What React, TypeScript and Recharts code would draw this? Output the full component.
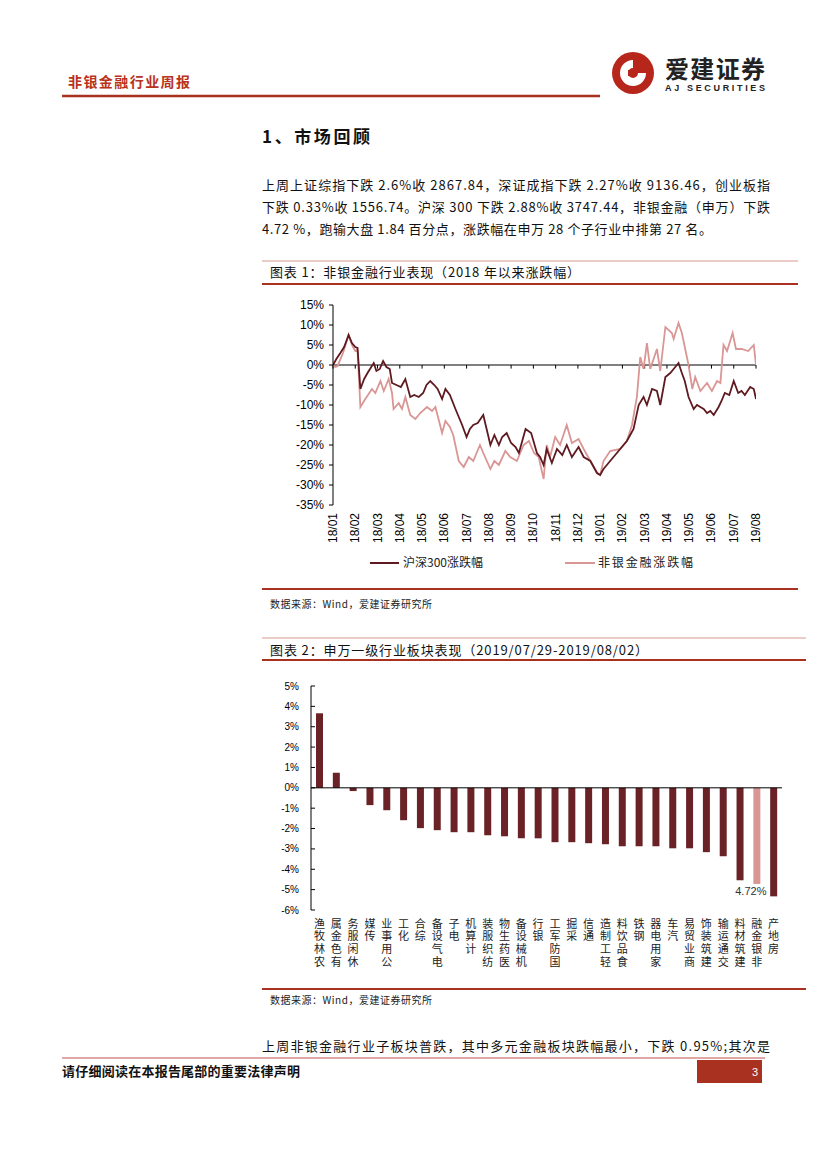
import React from 'react';
import { LineChart, Line, BarChart, Bar, Cell, LabelList, XAxis, YAxis, ReferenceLine } from 'recharts';

// chart 1: cumulative change since 2018/01, x = months since 2018/01
const monthLabels = ['18/01', '18/02', '18/03', '18/04', '18/05', '18/06', '18/07', '18/08', '18/09', '18/10',
    '18/11', '18/12', '19/01', '19/02', '19/03', '19/04', '19/05', '19/06', '19/07', '19/08'];
const yTicks1 = [15, 10, 5, 0, -5, -10, -15, -20, -25, -30, -35];

const hs300Month = [0, 0.15, 0.33, 0.5, 0.7, 0.85, 1.0, 1.1, 1.23, 1.4, 1.55, 1.83, 1.95, 2.1, 2.25, 2.4, 2.55, 2.65,
    2.85, 3.05, 3.25, 3.47, 3.65, 3.85, 4.05, 4.2, 4.37, 4.55, 4.7, 4.9, 5.05, 5.25, 5.5, 5.65, 5.8, 6.0, 6.15, 6.3,
    6.5, 6.75, 6.9, 7.07, 7.25, 7.45, 7.6, 7.8, 8.0, 8.2, 8.35, 8.5, 8.65, 8.9, 9.16, 9.3, 9.46, 9.6, 9.83, 10.06,
    10.3, 10.5, 10.73, 11.03, 11.26, 11.56, 11.86, 12.0, 12.15, 12.3, 12.45, 12.6, 12.75, 12.9, 13.05, 13.2, 13.35,
    13.5, 13.73, 13.95, 14.1, 14.33, 14.55, 14.7, 14.93, 15.15, 15.3, 15.52, 15.67, 15.8, 15.97, 16.2, 16.35, 16.5,
    16.65, 16.8, 16.95, 17.1, 17.32, 17.45, 17.6, 17.8, 18.0, 18.2, 18.35, 18.5, 18.74, 18.9, 19.0];
const hs300Change = [0, 1.5, 3, 4.5, 7.5, 5.5, 4.5, 4.3, -6, -3.5, -2, 0.5, -1.5, -1, 1, -0.5, -1, -4.5,
    -5, -5.5, -3.5, -8, -7.5, -8, -7, -5, -4, -5, -6, -8.5, -6, -7.5, -11, -13, -15, -18, -16, -15,
    -14.5, -12.5, -16, -20, -17.5, -20, -18, -17, -19.5, -20.5, -22, -19, -16, -17, -22, -23, -25, -21, -24.5, -21,
    -22.5, -20, -23, -20.5, -23, -24, -27, -27.5, -26, -25, -24, -23, -22, -21, -20, -19, -17.5,
    -16, -10, -8, -10, -6, -6.5, -10, -3, -2, -1, 0.5, -2, -4, -8, -11, -10, -10.5,
    -11, -12, -11.5, -12.5, -10.5, -9, -7, -7.5, -4, -7, -6.5, -7.5, -5.5, -6, -8.5];

const nonBankMonth = [0, 0.1, 0.2, 0.45, 0.7, 0.85, 1.0, 1.1, 1.23, 1.45, 1.75, 1.9, 2.13, 2.28, 2.5, 2.65, 2.72,
    2.95, 3.1, 3.25, 3.47, 3.7, 3.92, 4.22, 4.45, 4.6, 4.9, 5.05, 5.25, 5.4, 5.65, 5.87, 6.1, 6.3, 6.6, 6.75, 7.07,
    7.25, 7.45, 7.74, 7.96, 8.26, 8.56, 8.8, 9.03, 9.24, 9.46, 9.6, 9.75, 9.98, 10.2, 10.5, 10.73, 11.03, 11.26,
    11.56, 11.86, 12.0, 12.15, 12.45, 12.9, 13.2, 13.43, 13.65, 13.8, 13.95, 14.1, 14.25, 14.55, 14.7, 14.93, 15.22,
    15.3, 15.52, 15.67, 15.97, 16.14, 16.27, 16.5, 16.8, 17.02, 17.25, 17.4, 17.54, 17.7, 17.95, 18.1, 18.35, 18.65,
    18.9, 19.0];
const nonBankChange = [0, -0.5, -0.3, 3, 7.5, 5, 3.5, 3.8, -10.5, -8.5, -6, -7, -4, -6.5, -3.5, -7, -11,
    -9.5, -11, -8, -12.5, -13.5, -12, -10.5, -11.5, -10.5, -17, -14, -15.5, -17.5, -24, -25.5, -23, -24, -20, -22, -26,
    -24, -25, -21.5, -23, -24, -20, -19, -22, -23, -28.5, -20, -23, -18, -20, -15, -19.5, -18.5, -21,
    -24, -27, -27.5, -24, -21.5, -21, -19, -15, -8, 2, -1, 5.5, -1, 4, -1.5, 9.5, 8,
    6.5, 10.5, 8, 0, -6, -3, -6.5, -4.5, -6.5, -4, -4.5, 5, 3.5, 8, 4, 4, 3.5,
    5, 0];

// chart 2: Shenwan level-1 industries, weekly change (%)
const industries = ['农林牧渔', '有色金属', '休闲服务', '传媒', '公用事业', '化工', '综合', '电气设备', '电子', '计算机',
    '纺织服装', '医药生物', '机械设备', '银行', '国防军工', '采掘', '通信', '轻工制造', '食品饮料', '钢铁',
    '家用电器', '汽车', '商业贸易', '建筑装饰', '交通运输', '建筑材料', '非银金融', '房地产'];
const weeklyChange = [3.66, 0.74, -0.16, -0.85, -1.1, -1.59, -1.98, -2.08, -2.18, -2.18,
    -2.33, -2.38, -2.48, -2.48, -2.67, -2.67, -2.72, -2.77, -2.87, -2.87,
    -2.87, -2.97, -2.97, -3.16, -3.36, -4.54, -4.72, -5.33];
const yTicks2 = [5, 4, 3, 2, 1, 0, -1, -2, -3, -4, -5, -6];
const highlight = '非银金融';

const hs300Data = hs300Month.map((m, i) => ({ m, v: hs300Change[i] }));
const nonBankData = nonBankMonth.map((m, i) => ({ m, v: nonBankChange[i] }));
const barData = industries.map((name, i) => ({ name, value: weeklyChange[i] }));
const monthTicks = monthLabels.map((_, i) => i);

const DARK = '#5e1a20';
const PINK = '#d99694';
const RED = '#a8321f';
const CJK = '"Noto Sans CJK SC", sans-serif';
const LATIN = '"Liberation Sans", Arial, sans-serif';

function MonthTick({ x, y, payload }: any) {
    return (
        <text x={x} y={y + 8} transform={`rotate(-90 ${x} ${y + 8})`} textAnchor="end" dominantBaseline="central"
            fontSize={12} fontFamily={LATIN} fill="#000">
            {monthLabels[payload.value]}
        </text>
    );
}

// vertical label, last character on top (rotated-label look of the original)
function IndustryTick({ x, y, payload }: any) {
    const label = String(payload.value).split('').reverse().join('');
    return (
        <text x={x} y={y + 8} style={{ writingMode: 'vertical-rl', letterSpacing: '1.7px' }}
            fontSize={11} fontFamily={CJK} fill="#222">
            {label}
        </text>
    );
}

function InnerYTick({ x, y, payload }: any) {
    return (
        <g>
            <line x1={x} y1={y} x2={x + 4} y2={y} stroke="#000" />
            <text x={x - 12} y={y} textAnchor="end" dominantBaseline="central" fontSize={10} fontFamily={LATIN} fill="#000">
                {payload.value}%
            </text>
        </g>
    );
}

function HighlightLabel(props: any) {
    const { x, y, width, height, index, value } = props;
    if (industries[index] !== highlight) return null;
    const bottom = Math.max(y, y + height);
    return (
        <text x={x + width / 2 - 6} y={bottom + 11} textAnchor="middle" fontSize={11} fontFamily={LATIN} fill="#333">
            {Math.abs(value).toFixed(2)}%
        </text>
    );
}

function Page() {
    return (
        <svg width={827} height={1169} style={{ position: 'absolute', left: 0, top: 0 }}>
            {/* header */}
            <text x={68} y={87} fontSize={14} fontWeight="bold" fontFamily={CJK} fill="#b8321c" textLength={122}>非银金融行业周报</text>
            <line x1={62} y1={96} x2={600} y2={96} stroke={RED} strokeWidth={2.5} />
            <circle cx={633} cy={73} r={21} fill="#b7261b" />
            <path d="M 633 60 A 13 13 0 1 0 646 73 L 638 73 A 5 5 0 1 1 633 68 Z" fill="#fff" />
            <rect x={628} y={70} width={6} height={6} fill="#b7261b" />
            <text x={665} y={78} fontSize={24} fontWeight="bold" fontFamily={CJK} fill="#222" textLength={100}>爱建证券</text>
            <text x={665} y={91} fontSize={9} fontWeight="bold" fontFamily={LATIN} fill="#222" textLength={100}>AJ SECURITIES</text>

            {/* section 1 */}
            <text x={262} y={143} fontSize={17} fontWeight="bold" fontFamily={CJK} fill="#111" textLength={108}>1、市场回顾</text>
            <text x={262} y={190} fontSize={13} fontFamily={CJK} fill="#111" textLength={508}>上周上证综指下跌 2.6%收 2867.84，深证成指下跌 2.27%收 9136.46，创业板指</text>
            <text x={262} y={212} fontSize={13} fontFamily={CJK} fill="#111" textLength={508}>下跌 0.33%收 1556.74。沪深 300 下跌 2.88%收 3747.44，非银金融（申万）下跌</text>
            <text x={262} y={234} fontSize={13} fontFamily={CJK} fill="#111" textLength={450}>4.72 %，跑输大盘 1.84 百分点，涨跌幅在申万 28 个子行业中排第 27 名。</text>

            {/* chart 1 frame */}
            <line x1={262} y1={261} x2={798} y2={261} stroke="#d79a90" strokeWidth={1} />
            <text x={270} y={277} fontSize={13} fontFamily={CJK} fill="#111" textLength={310}>图表 1：非银金融行业表现（2018 年以来涨跌幅）</text>
            <line x1={262} y1={284} x2={798} y2={284} stroke={RED} strokeWidth={2} />
            <line x1={370} y1={563} x2={399} y2={563} stroke={DARK} strokeWidth={2} />
            <text x={403} y={567} fontSize={12} fontFamily={CJK} fill="#222" textLength={80}>沪深300涨跌幅</text>
            <line x1={565} y1={563} x2={595} y2={563} stroke={PINK} strokeWidth={2} />
            <text x={598} y={567} fontSize={12} fontFamily={CJK} fill="#222" textLength={95}>非银金融涨跌幅</text>
            <line x1={262} y1={589} x2={798} y2={589} stroke={RED} strokeWidth={2} />
            <text x={270} y={608} fontSize={10} fontFamily={CJK} fill="#222" textLength={162}>数据来源：Wind，爱建证券研究所</text>

            {/* chart 2 frame */}
            <line x1={262} y1={638} x2={806} y2={638} stroke="#d79a90" strokeWidth={1} />
            <text x={270} y={655} fontSize={13} fontFamily={CJK} fill="#111" textLength={378}>图表 2：申万一级行业板块表现（2019/07/29-2019/08/02）</text>
            <line x1={262} y1={660} x2={806} y2={660} stroke={RED} strokeWidth={2} />
            <line x1={262} y1={989} x2={806} y2={989} stroke={RED} strokeWidth={2} />
            <text x={270} y={1004} fontSize={10} fontFamily={CJK} fill="#222" textLength={162}>数据来源：Wind，爱建证券研究所</text>

            <text x={262} y={1051} fontSize={13} fontFamily={CJK} fill="#111" textLength={508}>上周非银金融行业子板块普跌，其中多元金融板块跌幅最小，下跌 0.95%;其次是</text>

            {/* footer */}
            <line x1={62} y1={1058} x2={765} y2={1058} stroke="#c0504d" strokeWidth={1} />
            <text x={62} y={1076} fontSize={13} fontWeight="bold" fontFamily={CJK} fill="#111" textLength={238}>请仔细阅读在本报告尾部的重要法律声明</text>
            <rect x={697} y={1060} width={65} height={23} fill="#a8321f" />
            <text x={752} y={1076} fontSize={11} fontFamily={LATIN} fill="#fff">3</text>
        </svg>
    );
}

export default function App() {
    return (
        <div style={{ position: 'absolute', left: 0, top: 0, width: 827, height: 1169, background: '#fff', overflow: 'hidden' }}>
            <Page />
            <div style={{ position: 'absolute', left: 262, top: 290 }}>
                <LineChart width={540} height={300} margin={{ top: 15, right: 46, bottom: 40, left: 0 }}>
                    <XAxis dataKey="m" type="number" domain={[0, 19]} ticks={monthTicks} interval={0} allowDataOverflow
                        axisLine={false} tickLine={false} tickSize={0} tickMargin={0} height={45} tick={<MonthTick />} />
                    <YAxis type="number" domain={[-35, 15]} ticks={yTicks1} interval={0} width={71}
                        axisLine={{ stroke: '#000' }} tickLine={{ stroke: '#000' }} tickSize={4} tickMargin={5}
                        tick={{ fontSize: 12, fontFamily: LATIN, fill: '#000' }} tickFormatter={(v: number) => `${v}%`} />
                    <ReferenceLine y={0} stroke="#000" strokeWidth={1} />
                    {monthTicks.map((m) => (
                        <ReferenceLine key={m} segment={[{ x: m, y: 0 }, { x: m, y: -0.9 }]} stroke="#000" />
                    ))}
                    <Line data={nonBankData} dataKey="v" stroke={PINK} strokeWidth={1.8} dot={false} isAnimationActive={false} />
                    <Line data={hs300Data} dataKey="v" stroke={DARK} strokeWidth={1.8} dot={false} isAnimationActive={false} />
                </LineChart>
            </div>
            <div style={{ position: 'absolute', left: 262, top: 670 }}>
                <BarChart width={540} height={320} data={barData} margin={{ top: 16, right: 20, bottom: 10, left: 0 }}>
                    <XAxis dataKey="name" interval={0} axisLine={false} tickLine={false} tickSize={0} tickMargin={0}
                        height={70} tick={<IndustryTick />} />
                    <YAxis type="number" domain={[-6, 5]} ticks={yTicks2} interval={0} width={49}
                        axisLine={{ stroke: '#000' }} tickLine={false} tickSize={0} tickMargin={0} tick={<InnerYTick />} />
                    <ReferenceLine y={0} stroke="#000" strokeWidth={1} />
                    <Bar dataKey="value" barSize={7} isAnimationActive={false}>
                        {barData.map((d) => (
                            <Cell key={d.name} fill={d.name === highlight ? PINK : '#6b2226'} />
                        ))}
                        <LabelList dataKey="value" content={<HighlightLabel />} />
                    </Bar>
                </BarChart>
            </div>
        </div>
    );
}
